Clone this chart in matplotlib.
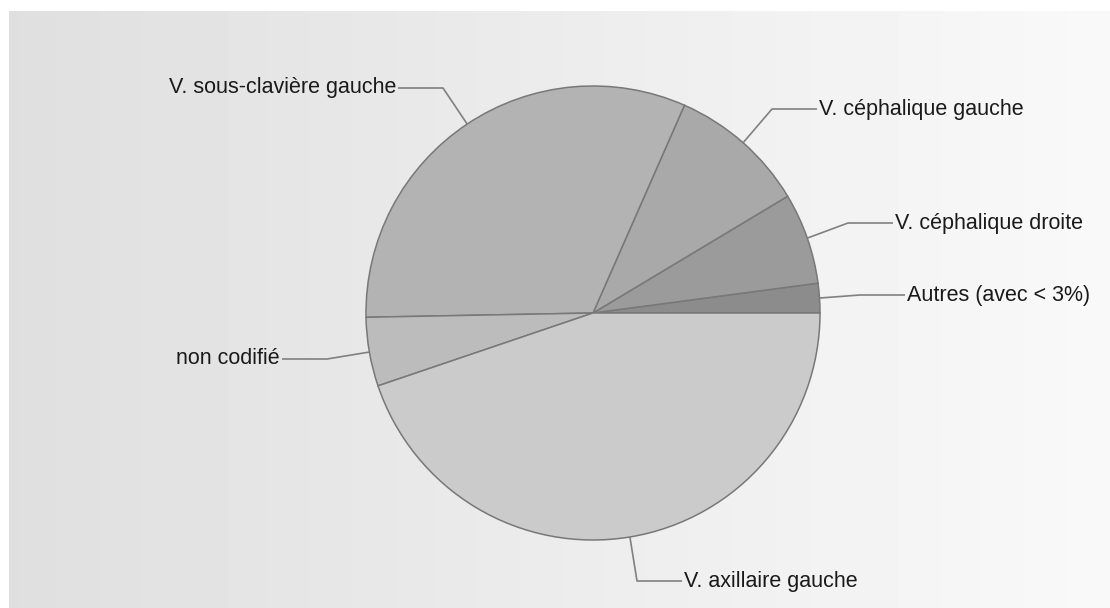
import matplotlib
matplotlib.use('Agg')
import matplotlib.pyplot as plt
import numpy as np

labels = ['Autres (avec < 3%)', 'V. céphalique droite', 'V. céphalique gauche',
          'V. sous-clavière gauche', 'non codifié', 'V. axillaire gauche']
values = [2.1, 6.5, 9.8, 31.9, 4.9, 44.8]
colors = ['#8c8c8c', '#9b9b9b', '#a9a9a9', '#b3b3b3', '#bcbcbc', '#cbcbcb']

W, H = 1110, 608
fig = plt.figure(figsize=(W / 100, H / 100), dpi=100)
ax = fig.add_axes([0, 0, 1, 1])

# background panel with horizontal gradient
grad = np.linspace(0xdf, 0xf9, 256) / 255.0
ax.imshow(np.tile(grad, (2, 1)), cmap='gray', vmin=0, vmax=1,
          extent=(9, W, 0, H - 11), aspect='auto', zorder=0)

cx, cy, r = 593, H - 313, 227
wedges, _ = ax.pie(values, colors=colors, startangle=0, counterclock=True,
                   radius=r, center=(cx, cy), frame=True,
                   wedgeprops=dict(edgecolor='#787878', linewidth=1.1))
for w in wedges:
    w.set_zorder(2)

# label layout: (elbow x, elbow y in image coords, side)
layout = [
    (860, 295, 'right'),
    (848, 223, 'right'),
    (772, 109, 'right'),
    (443, 88, 'left'),
    (327, 359, 'left'),
    (637, 581, 'right'),
]
hlen = 45
for w, lab, (ex, ey, side) in zip(wedges, labels, layout):
    th = np.deg2rad((w.theta1 + w.theta2) / 2)
    ax_x, ax_y = cx + r * np.cos(th), cy + r * np.sin(th)
    ey_m = H - ey
    if side == 'right':
        tx = ex + hlen
        ha = 'left'
        xt = tx + 2
    else:
        tx = ex - hlen
        ha = 'right'
        xt = tx - 2
    ax.plot([ax_x, ex, tx], [ax_y, ey_m, ey_m], color='#808080', lw=1.2,
            zorder=3, solid_capstyle='butt')
    ax.text(xt, ey_m, lab, ha=ha, va='center', fontsize=15.5,
            family=['Liberation Sans', 'DejaVu Sans'], color='#1a1a1a', zorder=4)

ax.set_xlim(0, W)
ax.set_ylim(0, H)
ax.set_aspect('auto')
ax.axis('off')
fig.savefig('out.png', dpi=100, facecolor='white')
